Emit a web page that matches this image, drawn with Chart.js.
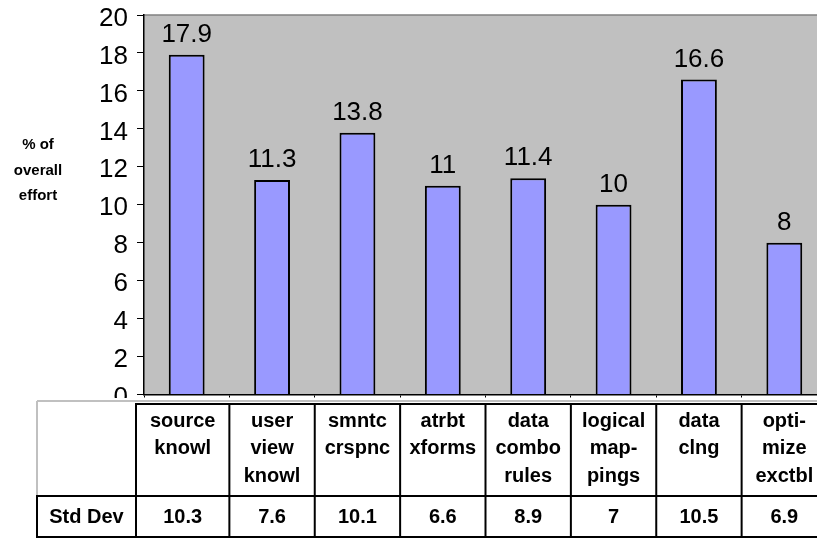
<!DOCTYPE html>
<html><head><meta charset="utf-8">
<script src="https://cdn.jsdelivr.net/npm/chart.js@4"></script>
<style>
html,body{margin:0;padding:0;overflow:hidden;background:#fff;}
#wrap{position:relative;width:827px;height:539px;}
</style></head><body>
<div id="wrap"><canvas id="c" width="827" height="539"></canvas></div>
<script>
const categories = [["source","knowl"],["user","view","knowl"],["smntc","crspnc"],["atrbt","xforms"],["data","combo","rules"],["logical","map-","pings"],["data","clng"],["opti-","mize","exctbl"]];
const effortValues = [17.9, 11.3, 13.8, 11, 11.4, 10, 16.6, 8];
const stdDevValues = ["10.3", "7.6", "10.1", "6.6", "8.9", "7", "10.5", "6.9"];
const yTicks = [0, 2, 4, 6, 8, 10, 12, 14, 16, 18, 20];
const yTitleLines = ["% of", "overall", "effort"];
const stdDevLabel = "Std Dev";

const FONT = "'Liberation Sans', Arial, Helvetica, sans-serif";

const decor = {
  id: 'decor',
  beforeDraw(chart) {
    const {ctx, chartArea: a} = chart;
    ctx.save();
    ctx.fillStyle = '#C0C0C0';
    ctx.fillRect(a.left, a.top, a.right - a.left, a.bottom - a.top);
    ctx.strokeStyle = '#808080';
    ctx.lineWidth = 1.5;
    ctx.beginPath();
    ctx.moveTo(a.left, a.top);
    ctx.lineTo(a.right, a.top);
    ctx.stroke();
    ctx.restore();
  },
  afterDatasetsDraw(chart) {
    const {ctx} = chart;
    const meta = chart.getDatasetMeta(0);
    ctx.save();
    ctx.fillStyle = '#000';
    ctx.font = '26px ' + FONT;
    ctx.textAlign = 'center';
    ctx.textBaseline = 'alphabetic';
    meta.data.forEach((bar, i) => {
      ctx.fillText(String(effortValues[i]), bar.x, bar.y - 13);
    });
    ctx.restore();
  },
  afterDraw(chart) {
    const {ctx, chartArea: a} = chart;
    const xs = chart.scales.x;
    const W = chart.width;
    ctx.save();
    ctx.fillStyle = '#fff';
    ctx.fillRect(0, 398, W, chart.height - 398);

    ctx.fillStyle = '#000';
    ctx.font = 'bold 15px ' + FONT;
    ctx.textAlign = 'center';
    ctx.textBaseline = 'middle';
    yTitleLines.forEach((t, k) => ctx.fillText(t, 38, 145 + k * 25.5));

    const half = (xs.getPixelForValue(1) - xs.getPixelForValue(0)) / 2;
    const bounds = [];
    for (let i = 0; i <= categories.length; i++) {
      bounds.push(xs.getPixelForValue(i) - half);
    }
    bounds[0] = a.left - 8;
    const L = 37, T = 404, M = 496, B = 537;

    ctx.strokeStyle = '#C0C0C0';
    ctx.lineWidth = 2;
    ctx.beginPath();
    ctx.moveTo(L, 401); ctx.lineTo(W, 401);
    ctx.moveTo(L, 401); ctx.lineTo(L, M);
    ctx.stroke();

    ctx.strokeStyle = '#000';
    ctx.lineWidth = 2;
    ctx.beginPath();
    ctx.moveTo(bounds[0], T); ctx.lineTo(W, T);
    ctx.moveTo(L - 1, M); ctx.lineTo(W, M);
    ctx.moveTo(L - 1, B); ctx.lineTo(W, B);
    ctx.moveTo(L, M); ctx.lineTo(L, B + 1);
    bounds.forEach(bx => { ctx.moveTo(bx, T - 1); ctx.lineTo(bx, B + 1); });
    ctx.stroke();

    ctx.font = 'bold 20px ' + FONT;
    ctx.fillStyle = '#000';
    ctx.textAlign = 'center';
    ctx.textBaseline = 'middle';
    categories.forEach((lines, i) => {
      const cx = (bounds[i] + bounds[i + 1]) / 2;
      lines.forEach((t, k) => ctx.fillText(t, cx, T + 17 + k * 27.5));
      ctx.fillText(stdDevValues[i], cx, (M + B) / 2 + 1);
    });
    ctx.fillText(stdDevLabel, (L + bounds[0]) / 2, (M + B) / 2 + 1);
    ctx.restore();
  }
};

new Chart(document.getElementById('c'), {
  type: 'bar',
  data: {
    labels: categories.map(c => c.join(' ')),
    datasets: [{
      data: effortValues,
      backgroundColor: '#9999FF',
      borderColor: '#000',
      borderWidth: 2,
      barPercentage: 0.42,
      categoryPercentage: 1
    }]
  },
  options: {
    responsive: false,
    animation: false,
    devicePixelRatio: 1,
    layout: {padding: {left: 0, top: 15, right: 0, bottom: 141.5}},
    plugins: {legend: {display: false}, tooltip: {enabled: false}},
    scales: {
      x: {
        grid: {offset: true, drawOnChartArea: false, drawTicks: true, tickLength: 3, color: '#000', lineWidth: 1},
        border: {display: true, color: '#000', width: 1.5},
        ticks: {display: false},
        afterFit(s) { s.height = 3; s.paddingLeft = 0; s.paddingRight = 0; }
      },
      y: {
        min: 0, max: 20,
        afterBuildTicks(s) { s.ticks = yTicks.map(v => ({value: v})); },
        ticks: {color: '#000', font: {family: FONT, size: 26}, padding: 9, labelOffset: 3.5},
        grid: {drawOnChartArea: false, drawTicks: true, tickLength: 7, color: '#000', lineWidth: 1},
        border: {display: true, color: '#000', width: 1.5},
        afterFit(s) { s.width = 144; s.paddingTop = 0; s.paddingBottom = 0; }
      }
    }
  },
  plugins: [decor]
});
</script>
</body></html>
